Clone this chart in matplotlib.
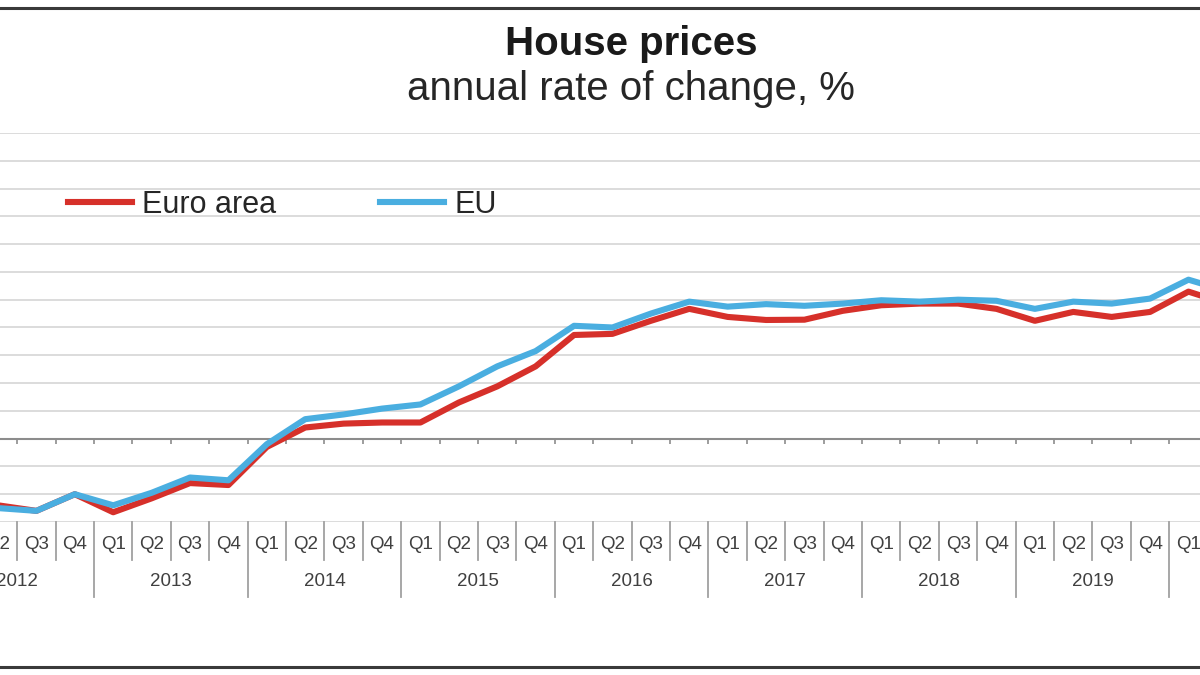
import matplotlib
matplotlib.use("Agg")
import matplotlib.pyplot as plt
from matplotlib.lines import Line2D

plt.rcParams['font.family'] = ['Liberation Sans', 'DejaVu Sans']

# Quarters shown (the picture is cropped: starts at 2012 Q2, ends after 2020 Q1)
periods = ['2012Q2', '2012Q3', '2012Q4',
           '2013Q1', '2013Q2', '2013Q3', '2013Q4',
           '2014Q1', '2014Q2', '2014Q3', '2014Q4',
           '2015Q1', '2015Q2', '2015Q3', '2015Q4',
           '2016Q1', '2016Q2', '2016Q3', '2016Q4',
           '2017Q1', '2017Q2', '2017Q3', '2017Q4',
           '2018Q1', '2018Q2', '2018Q3', '2018Q4',
           '2019Q1', '2019Q2', '2019Q3', '2019Q4',
           '2020Q1', '2020Q2']

# annual rate of change, %
euro_area = [-2.4, -2.6, -2.0, -2.65, -2.15, -1.6, -1.67,
             -0.3, 0.4, 0.54, 0.58,
             0.58, 1.3, 1.88, 2.6,
             3.73, 3.77, 4.24, 4.67,
             4.38, 4.27, 4.28, 4.6,
             4.8, 4.86, 4.86, 4.67,
             4.24, 4.56, 4.38, 4.56,
             5.29, 4.85]
eu = [-2.5, -2.6, -2.0, -2.4, -1.95, -1.4, -1.5,
      -0.2, 0.7, 0.87, 1.08,
      1.23, 1.88, 2.6, 3.15,
      4.06, 4.0, 4.5, 4.93,
      4.75, 4.84, 4.78, 4.86,
      4.98, 4.93, 5.0, 4.96,
      4.67, 4.93, 4.86, 5.04,
      5.72, 5.31]

red = '#D6302A'
blue = '#4AAEE0'
grey_txt = '#404040'

fig = plt.figure(figsize=(12, 6.75), dpi=100)
ax = fig.add_axes([0.0, 0.2267, 1.0, 0.5763])

x = list(range(len(periods)))

# grid
for v in range(-3, 12):
    if v == 0:
        continue
    ax.axhline(v, color='#DCDCDC', lw=1.4, zorder=0)
ax.axhline(0, color='#8C8C8C', lw=1.5, zorder=1)

# small ticks under the zero line at quarter boundaries
bounds = [i - 0.5 for i in range(len(periods) + 1)]
ax.vlines(bounds, -0.2, 0, color='#8C8C8C', lw=1.2, zorder=1)

ax.plot(x, euro_area, color=red, lw=4.4, solid_joinstyle='round', zorder=3, label='Euro area')
ax.plot(x, eu, color=blue, lw=4.4, solid_joinstyle='round', zorder=4, label='EU')

ax.set_xlim(0.052, 31.30)
ax.set_ylim(-3, 11)
ax.axis('off')

# category axis: quarter labels and separators
tr = ax.get_xaxis_transform()
for i, p in enumerate(periods):
    yr, q = p[:4], p[4:]
    ax.text(i, -0.059, q, transform=tr, ha='center', va='center',
            fontsize=13.5, color=grey_txt, clip_on=False)
    is_year_start = q == 'Q1'
    ax.plot([i - 0.5, i - 0.5], [0, -0.193 if is_year_start else -0.098],
            transform=tr, color='#A0A0A0', lw=1.3, clip_on=False)

years = sorted(set(p[:4] for p in periods))
for yr in years:
    idx = [i for i, p in enumerate(periods) if p[:4] == yr]
    q_first = int(periods[idx[0]][5])
    start = idx[0] - (q_first - 1)
    ax.text(start + 1.5, -0.154, yr, transform=tr, ha='center', va='center',
            fontsize=13.5, color=grey_txt, clip_on=False)

# legend
ax.legend(loc='center left', bbox_to_anchor=(68 / 1200, 1 - 205 / 675),
          bbox_transform=fig.transFigure, ncol=2, frameon=False,
          fontsize=22, handlelength=2.1, handletextpad=0.33,
          columnspacing=3.4, borderpad=0, borderaxespad=0,
          labelcolor='#262626')

# titles
fig.text(0.526, 1 - 55 / 675, 'House prices', ha='center', va='baseline',
         fontsize=29, fontweight='bold', color='#1A1A1A')
fig.text(0.526, 1 - 100 / 675, 'annual rate of change, %', ha='center',
         va='baseline', fontsize=29, color='#262626')

# frame lines of the cropped picture
fig.add_artist(Line2D([0, 1], [1 - 8 / 675, 1 - 8 / 675], color='#3A3A3A', lw=2.2))
fig.add_artist(Line2D([0, 1], [1 - 667 / 675, 1 - 667 / 675], color='#3A3A3A', lw=2.2))

fig.savefig('out.png', dpi=100)
